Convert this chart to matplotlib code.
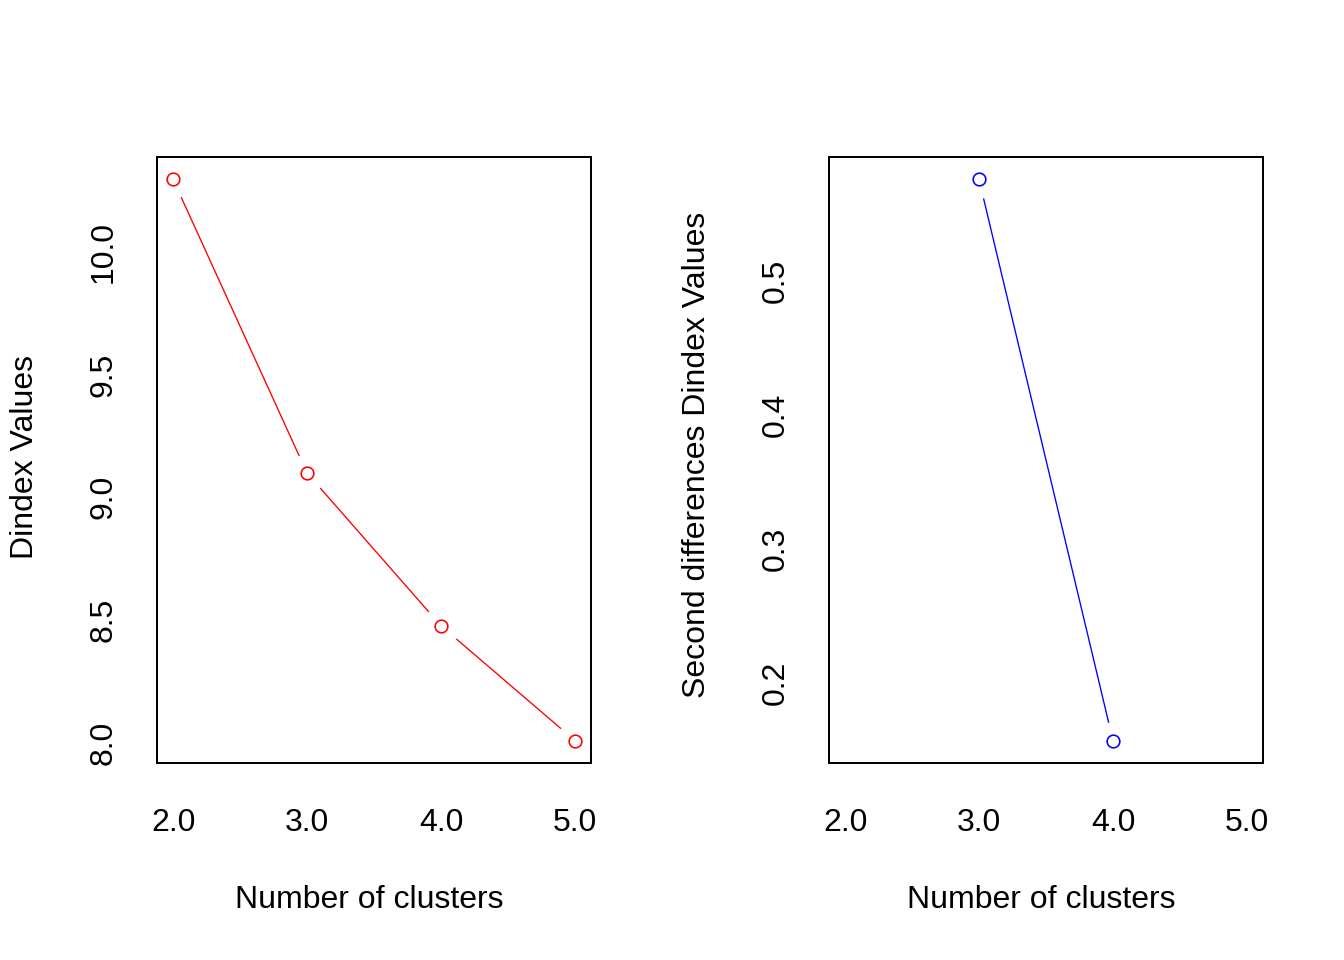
import matplotlib
matplotlib.use('Agg')
import matplotlib.pyplot as plt
import numpy as np

# ============================================================
# 数据
# ============================================================
clusters = [2, 3, 4, 5]
dindex = [10.296, 9.099, 8.476, 8.008]
clusters_diff = [3, 4]
second_diff = [0.576, 0.157]

x_ticks = [2, 3, 4, 5]
x_tick_labels = ['2.0', '3.0', '4.0', '5.0']
left_y_ticks = [8.0, 8.5, 9.0, 9.5, 10.0]
left_y_labels = ['8.0', '8.5', '9.0', '9.5', '10.0']
right_y_ticks = [0.2, 0.3, 0.4, 0.5]
right_y_labels = ['0.2', '0.3', '0.4', '0.5']

plt.rcParams['font.family'] = ['Liberation Sans', 'DejaVu Sans']

W, H, DPI = 1344, 960, 96
fig = plt.figure(figsize=(W / DPI, H / DPI), dpi=DPI)
fig.patch.set_facecolor('white')

FS = 24


def r_range(vals):
    # R 默认在数据范围两侧各扩展 4%
    lo, hi = min(vals), max(vals)
    d = (hi - lo) * 0.04
    return lo - d, hi + d


def panel(left_px, xs, ys, color, yticks, ylabels):
    ax = fig.add_axes([left_px / W, (H - 763) / H, 434 / W, 606 / H])
    # 线条 + 白色遮罩 + 空心圆点，模拟 R 的 type="b"
    ax.plot(xs, ys, '-', color=color, lw=1.0, zorder=1)
    ax.plot(xs, ys, 'o', ms=29, mfc='white', mec='none', zorder=1.5)
    ax.plot(xs, ys, 'o', ms=9.5, mfc='none', mec=color, mew=1.2, zorder=3)

    ax.set_xlim(r_range(clusters))
    ax.set_ylim(r_range(ys))
    ax.set_xticks(x_ticks)
    ax.set_xticklabels(x_tick_labels, fontsize=FS)
    ax.set_yticks(yticks)
    ax.set_yticklabels(ylabels, fontsize=FS, rotation=90, va='center')
    ax.tick_params(axis='x', length=0, pad=34)
    ax.tick_params(axis='y', length=0, pad=29)
    for s in ax.spines.values():
        s.set_linewidth(1.5)

    cx = (left_px + 212) / W
    fig.text(cx, (H - 900) / H, 'Number of clusters', fontsize=FS,
             ha='center', va='center')
    return ax


panel(157, clusters, dindex, 'red', left_y_ticks, left_y_labels)
panel(829, clusters_diff, second_diff, 'blue', right_y_ticks, right_y_labels)

fig.text(25 / W, (H - 457) / H, 'Dindex Values', fontsize=FS,
         rotation=90, ha='center', va='center')
fig.text(697 / W, (H - 455) / H, 'Second differences Dindex Values', fontsize=FS,
         rotation=90, ha='center', va='center')

plt.savefig('out.png', dpi=DPI)
